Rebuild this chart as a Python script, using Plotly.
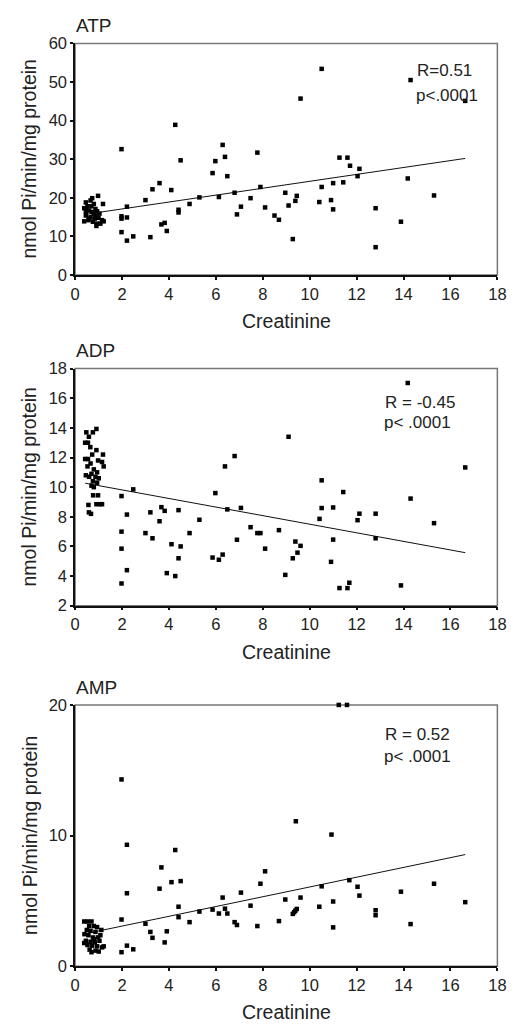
import plotly.graph_objects as go

# ---------------- data ----------------
atp_x = [0.98, 0.73, 0.46, 0.39, 0.53, 0.66, 0.80, 1.19, 0.87, 0.60, 0.73, 0.94, 0.46, 0.66, 0.87, 1.00,
         0.39, 0.57, 0.76, 0.94, 1.15, 1.22, 0.91, 1.08, 0.48, 0.80, 0.70, 1.04, 0.60, 0.84, 0.46,
         1.98, 2.21, 1.98, 1.98, 2.21, 1.98, 2.21, 2.48, 3.00, 3.21, 3.30, 3.60, 3.68, 3.82, 3.91, 4.10,
         4.27, 4.41, 4.41, 4.50, 4.88, 5.30, 5.86, 5.98, 6.13, 6.29, 6.39, 6.49, 6.80, 6.90, 7.07, 7.48,
         7.77, 7.90, 8.10, 8.50, 8.69, 8.96, 9.10, 9.28, 9.39, 9.45, 9.61, 10.41, 10.51, 10.51, 10.91,
         11.00, 11.00, 11.27, 11.43, 11.61, 11.72, 12.04, 12.12, 12.81, 12.81, 13.89, 14.18, 14.30,
         15.30, 16.63]
atp_y = [20.5, 19.9, 18.8, 17.3, 17.8, 19.3, 18.4, 18.4, 17.1, 16.7, 16.3, 16.5, 15.4, 15.0, 15.4, 14.8,
         13.9, 14.2, 13.8, 13.3, 14.2, 13.9, 12.7, 13.3, 17.1, 15.9, 17.8, 15.9, 14.6, 14.6, 16.3,
         32.6, 17.7, 15.2, 14.6, 14.9, 11.1, 8.9, 10.0, 19.4, 9.8, 22.2, 23.8, 13.1, 13.5, 11.4, 22.0,
         38.9, 16.9, 16.2, 29.7, 18.4, 20.1, 26.4, 29.5, 20.2, 33.7, 30.6, 25.6, 21.3, 15.7, 17.7, 19.9,
         31.7, 22.8, 17.5, 15.4, 14.3, 21.3, 18.0, 9.3, 19.2, 20.5, 45.7, 18.9, 53.4, 22.8, 19.4,
         23.8, 17.0, 30.4, 24.0, 30.4, 28.3, 25.6, 27.5, 17.3, 7.2, 13.8, 25.0, 50.5,
         20.6, 45.1]
atp_fit_x = [0.43, 16.63]
atp_fit_y = [15.7, 30.2]

adp_x = [0.91, 0.76, 0.48, 0.59, 0.43, 0.55, 0.65, 0.91, 0.73, 1.19, 0.43, 0.55, 0.98, 0.66, 1.15, 1.22,
         0.53, 0.80, 0.70, 0.94, 0.46, 0.60, 0.87, 1.01, 0.76, 0.94, 0.70, 0.80, 0.77, 0.98, 0.91, 1.05,
         1.15, 0.57, 0.59, 0.68,
         1.98, 2.48, 2.21, 1.98, 1.98, 2.21, 1.98, 3.00, 3.21, 3.30, 3.60, 3.68, 3.82, 3.91, 4.11, 4.27,
         4.41, 4.50, 4.41, 4.88, 5.30, 5.86, 5.98, 6.13, 6.29, 6.39, 6.49, 6.80, 6.90, 7.07, 7.48, 7.77,
         7.90, 8.10, 8.69, 8.96, 9.10, 9.28, 9.39, 9.48, 9.61, 10.42, 10.51, 10.51, 10.91, 11.00, 11.00,
         11.27, 11.43, 11.61, 11.69, 12.04, 12.12, 12.81, 12.81, 13.89, 14.18, 14.30, 15.30, 16.63]
adp_y = [13.93, 13.7, 13.7, 13.4, 13.0, 13.0, 12.7, 12.5, 12.2, 12.2, 11.9, 11.9, 11.8, 11.6, 11.7, 11.4,
         11.4, 11.2, 10.9, 11.0, 10.8, 10.7, 10.7, 10.6, 10.4, 10.3, 10.1, 10.0, 9.45, 9.45, 8.85, 8.85,
         8.85, 8.8, 8.3, 8.2,
         9.4, 9.85, 8.15, 7.0, 5.85, 4.4, 3.5, 6.9, 8.3, 6.55, 7.7, 8.65, 8.4, 4.2, 6.15, 4.0,
         8.45, 6.0, 5.2, 6.9, 7.8, 5.25, 9.6, 5.1, 5.45, 11.4, 8.5, 12.1, 6.45, 8.6, 7.3, 6.9,
         6.9, 5.85, 7.1, 4.08, 13.4, 5.2, 6.33, 5.58, 6.04, 7.86, 8.59, 10.46, 4.96, 6.46, 8.63,
         3.19, 9.67, 3.19, 3.55, 7.77, 8.21, 8.21, 6.55, 3.37, 17.03, 9.23, 7.57, 11.33]
adp_fit_x = [0.43, 16.63]
adp_fit_y = [10.27, 5.58]

amp_x = [0.39, 0.53, 0.70, 0.60, 0.80, 0.94, 1.12, 0.50, 0.66, 0.87, 0.57, 0.76, 0.98, 0.46, 0.66, 0.84,
         1.04, 0.53, 0.73, 0.94, 1.15, 0.62, 0.87, 1.22, 0.70, 1.01, 0.39, 0.80, 1.08, 0.40,
         1.98, 2.21, 4.27, 3.68, 4.11, 4.50, 3.60, 2.21, 1.98, 3.00, 3.21, 3.30, 3.91, 3.82, 1.98, 2.21,
         2.48, 4.41, 4.41, 4.88, 5.30, 5.86, 6.13, 6.29, 6.39, 6.49, 6.80, 6.90, 7.07, 7.48, 7.77, 7.90,
         8.10, 8.69, 8.96, 11.24, 11.59, 9.41, 10.93, 9.28, 9.34, 9.39, 9.45, 9.61, 10.41, 10.51, 11.00,
         11.00, 11.69, 12.04, 12.12, 12.81, 12.81, 13.89, 14.30, 15.30, 16.63]
amp_y = [3.43, 3.43, 3.43, 3.08, 3.08, 3.00, 2.78, 2.78, 2.71, 2.63, 2.38, 2.21, 2.21, 1.95, 1.88, 1.83,
         1.95, 1.63, 1.58, 1.53, 1.45, 1.28, 1.20, 1.53, 1.08, 1.13, 1.78, 2.08, 2.38, 2.46,
         14.3, 9.3, 8.9, 7.57, 6.44, 6.52, 5.94, 5.59, 3.58, 3.26, 2.63, 2.18, 2.68, 1.83, 1.08, 1.58,
         1.30, 4.56, 3.76, 3.38, 4.19, 4.34, 4.04, 5.26, 4.41, 4.04, 3.38, 3.16, 5.64, 4.64, 3.08, 6.32,
         7.27, 3.46, 5.11, 20.0, 20.0, 11.1, 10.08, 4.01, 4.14, 4.26, 4.39, 5.26, 4.56, 6.12, 4.96,
         2.98, 6.59, 6.09, 5.41, 4.29, 3.91, 5.71, 3.23, 6.32, 4.91]
amp_fit_x = [0.43, 16.63]
amp_fit_y = [2.49, 8.55]

panel_titles = ["ATP", "ADP", "AMP"]
stat_r = ["R=0.51", "R = -0.45", "R = 0.52"]
stat_p = ["p<.0001", "p< .0001", "p< .0001"]
x_ticks = [0, 2, 4, 6, 8, 10, 12, 14, 16, 18]
y_ticks = [[0, 10, 20, 30, 40, 50, 60], [2, 4, 6, 8, 10, 12, 14, 16, 18], [0, 10, 20]]
y_ranges = [[0, 60], [2, 18], [0, 20]]
x_title = "Creatinine"
y_title = "nmol Pi/min/mg protein"

# ---------------- layout helpers ----------------
W, H = 520, 1032
FONT = "Liberation Sans, Arial, sans-serif"
TXT = "#222222"
x_dom = [72 / W, 506 / W]
# pixel top/bottom of each plot area
pix = [(35, 270.7), (366, 607.3), (708.3, 974.3)]
y_doms = [[1 - b / H, 1 - t / H] for t, b in pix]

fig = go.Figure()
series = [(atp_x, atp_y, atp_fit_x, atp_fit_y),
          (adp_x, adp_y, adp_fit_x, adp_fit_y),
          (amp_x, amp_y, amp_fit_x, amp_fit_y)]

for i, (sx, sy, fx, fy) in enumerate(series):
    xa = "x" if i == 0 else f"x{i+1}"
    ya = "y" if i == 0 else f"y{i+1}"
    fig.add_trace(go.Scatter(x=fx, y=fy, mode="lines", xaxis=xa, yaxis=ya,
                             line=dict(color="#111111", width=1), showlegend=False,
                             hoverinfo="skip", cliponaxis=False))
    fig.add_trace(go.Scatter(x=sx, y=sy, mode="markers", xaxis=xa, yaxis=ya,
                             marker=dict(symbol="square", size=4.5, color="#000000",
                                         line=dict(width=0)),
                             showlegend=False, cliponaxis=False))

layout = dict(width=W, height=H, margin=dict(l=0, r=0, t=0, b=0),
              paper_bgcolor="white", plot_bgcolor="white",
              font=dict(family=FONT, color=TXT), showlegend=False)

TICK_SIZE = 16.5
annotations = []
shapes = []
for i in range(3):
    xk = "xaxis" if i == 0 else f"xaxis{i+1}"
    yk = "yaxis" if i == 0 else f"yaxis{i+1}"
    xa = "x" if i == 0 else f"x{i+1}"
    ya = "y" if i == 0 else f"y{i+1}"
    layout[xk] = dict(domain=x_dom, anchor=ya, range=[0, 18], tickvals=x_ticks,
                      ticks="outside", ticklen=3, tickwidth=2, tickcolor="#111",
                      showline=True, linecolor="#111", linewidth=1.5,
                      showgrid=False, zeroline=False,
                      tickfont=dict(size=TICK_SIZE, color=TXT, family=FONT))
    layout[yk] = dict(domain=y_doms[i], anchor=xa, range=y_ranges[i], tickvals=y_ticks[i],
                      ticks="outside", ticklen=3, tickwidth=2, tickcolor="#111",
                      showline=True, linecolor="#111", linewidth=1.5,
                      showgrid=False, zeroline=False,
                      tickfont=dict(size=TICK_SIZE, color=TXT, family=FONT))
    # gray frame (top/right)
    shapes.append(dict(type="rect", xref=f"{xa} domain", yref=f"{ya} domain",
                       x0=0, x1=1, y0=0, y1=1, line=dict(color="#777777", width=1.5),
                       layer="below"))
    t, b = pix[i]
    # panel title
    annotations.append(dict(text=panel_titles[i], xref="paper", yref="paper",
                            x=71 / W, y=1 - (t - 18) / H, xanchor="left", yanchor="middle",
                            showarrow=False, font=dict(size=19, color=TXT, family=FONT)))
    # x title
    annotations.append(dict(text=x_title, xref="paper", yref="paper",
                            x=289 / W, y=1 - (b + 47) / H, xanchor="center", yanchor="middle",
                            showarrow=False, font=dict(size=19.5, color=TXT, family=FONT)))
    # y title
    annotations.append(dict(text=y_title, xref="paper", yref="paper",
                            x=25 / W, y=1 - ((t + b) / 2) / H, xanchor="center", yanchor="middle",
                            textangle=-90, showarrow=False,
                            font=dict(size=19.5, color=TXT, family=FONT)))

# stats text
stat_pos = [((421, 63), (420, 88)), ((388, 400), (387, 421)), ((388, 738), (387, 761))]
for i in range(3):
    (rx, ry), (px_, py_) = stat_pos[i]
    annotations.append(dict(text=stat_r[i], xref="paper", yref="paper",
                            x=rx / W, y=1 - ry / H, xanchor="left", yanchor="middle",
                            showarrow=False, font=dict(size=17, color=TXT, family=FONT)))
    annotations.append(dict(text=stat_p[i], xref="paper", yref="paper",
                            x=px_ / W, y=1 - py_ / H, xanchor="left", yanchor="middle",
                            showarrow=False, font=dict(size=17, color=TXT, family=FONT)))

layout["annotations"] = annotations
layout["shapes"] = shapes
fig.update_layout(**layout)
fig.write_html("out.html")
